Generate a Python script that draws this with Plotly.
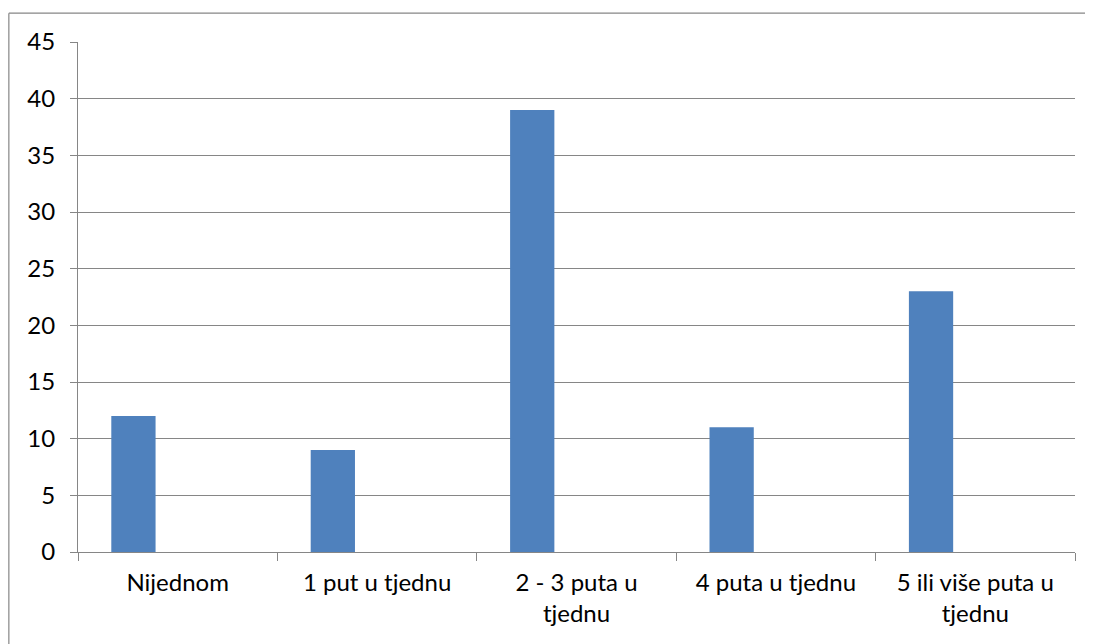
import plotly.graph_objects as go

categories = ["Nijednom", "1 put u tjednu", "2 - 3 puta u<br>tjednu", "4 puta u tjednu", "5 ili više puta u<br>tjednu"]
values = [12, 9, 39, 11, 23]
y_ticks = [0, 5, 10, 15, 20, 25, 30, 35, 40, 45]

# page body has an 8px margin, so the figure starts at (8, 8)
W, H = 1085, 636
L, R, T, B = 69.7, 17.5, 34.3, 91.7
pw, ph = W - L - R, H - T - B

def px_x(p):
    return (p - L) / pw

def px_y(p):
    return (H - B - p) / ph

grid = "#868686"
font = dict(family="Lato, 'Open Sans', sans-serif", size=24, color="#000000")

fig = go.Figure()
fig.add_trace(go.Bar(
    x=categories, y=values,
    marker=dict(color="#4F81BD", line=dict(width=0)),
    width=0.222, offset=-0.333,
    hoverinfo="x+y",
))

border = dict(color=grid, width=1.2)
fig.update_layout(
    width=W, height=H,
    margin=dict(l=L, r=R, t=T, b=B, autoexpand=False),
    paper_bgcolor="white", plot_bgcolor="white",
    font=font, showlegend=False,
    xaxis=dict(
        type="category", tickson="boundaries", ticks="outside", ticklen=8,
        tickcolor=grid, tickwidth=1, showline=True, linecolor=grid, linewidth=1,
        showgrid=False, range=[-0.5, 4.5], tickfont=font, fixedrange=True,
        ticklabelstandoff=9,
    ),
    yaxis=dict(
        range=[0, 45], tickvals=y_ticks, ticks="outside", ticklen=7,
        tickcolor=grid, tickwidth=1, showline=True, linecolor=grid, linewidth=1,
        showgrid=True, gridcolor=grid, gridwidth=1, zeroline=False,
        tickfont=font, ticklabelstandoff=10, fixedrange=True,
    ),
    shapes=[
        dict(type="line", xref="paper", yref="paper",
             x0=px_x(0.5), x1=px_x(1100), y0=px_y(5.5), y1=px_y(5.5), line=border, layer="below"),
        dict(type="line", xref="paper", yref="paper",
             x0=px_x(0.5), x1=px_x(0.5), y0=px_y(5.5), y1=px_y(660), line=border, layer="below"),
    ],
)

fig.write_html("out.html")
